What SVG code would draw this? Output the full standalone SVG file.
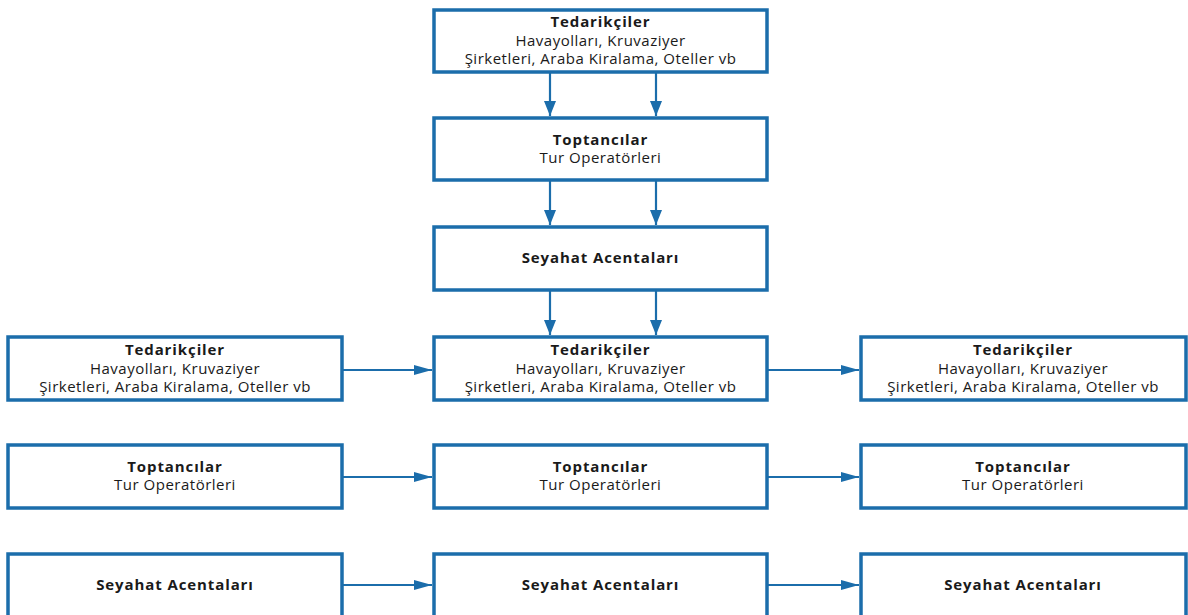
<svg xmlns="http://www.w3.org/2000/svg" width="1188" height="615" viewBox="0 0 1188 615">
<style>
.box{fill:#fff;stroke:#1b6dab;stroke-width:3.5}
.t{font-family:"Open Sans","Liberation Sans",sans-serif;font-size:15px;letter-spacing:0.5px;fill:#1a1a1a;text-anchor:middle}
.b{font-weight:bold;letter-spacing:0.9px}
.c{stroke:#1b6dab;stroke-width:2.2;fill:none}
</style>
<defs>
<marker id="ah" markerUnits="userSpaceOnUse" markerWidth="20" markerHeight="12" refX="18" refY="6" orient="auto">
<path d="M0,1 L18,6 L0,11 Z" fill="#1b6dab"/>
</marker>
<marker id="av" markerUnits="userSpaceOnUse" markerWidth="16" markerHeight="12" refX="15" refY="6" orient="auto">
<path d="M0,0 L15,6 L0,12 Z" fill="#1b6dab"/>
</marker>
</defs>
<rect width="1188" height="615" fill="#fff"/>
<g id="connectors">
<line class="c" x1="550" y1="73" x2="550" y2="116" marker-end="url(#av)"/>
<line class="c" x1="656" y1="73" x2="656" y2="116" marker-end="url(#av)"/>
<line class="c" x1="550" y1="181" x2="550" y2="225" marker-end="url(#av)"/>
<line class="c" x1="656" y1="181" x2="656" y2="225" marker-end="url(#av)"/>
<line class="c" x1="550" y1="291" x2="550" y2="335" marker-end="url(#av)"/>
<line class="c" x1="656" y1="291" x2="656" y2="335" marker-end="url(#av)"/>
<line class="c" x1="343" y1="370" x2="432" y2="370" marker-end="url(#ah)"/>
<line class="c" x1="768" y1="370" x2="859" y2="370" marker-end="url(#ah)"/>
<line class="c" x1="343" y1="477" x2="432" y2="477" marker-end="url(#ah)"/>
<line class="c" x1="768" y1="477" x2="859" y2="477" marker-end="url(#ah)"/>
<line class="c" x1="343" y1="585" x2="432" y2="585" marker-end="url(#ah)"/>
<line class="c" x1="768" y1="585" x2="859" y2="585" marker-end="url(#ah)"/>
</g>
<g id="n1"><rect class="box" x="434" y="10" width="333" height="62"/>
<text class="t b" x="600.5" y="27">Tedarikçiler</text><text class="t" x="600.5" y="46">Havayolları, Kruvaziyer</text><text class="t" x="600.5" y="64">Şirketleri, Araba Kiralama, Oteller vb</text></g>
<g id="n2"><rect class="box" x="434" y="118" width="333" height="62"/>
<text class="t b" x="600.5" y="145">Toptancılar</text><text class="t" x="600.5" y="163">Tur Operatörleri</text></g>
<g id="n3"><rect class="box" x="434" y="227" width="333" height="63"/>
<text class="t b" x="600.5" y="263">Seyahat Acentaları</text></g>
<g id="n4l"><rect class="box" x="8" y="337" width="334" height="63"/>
<text class="t b" x="175" y="355">Tedarikçiler</text><text class="t" x="175" y="374">Havayolları, Kruvaziyer</text><text class="t" x="175" y="392">Şirketleri, Araba Kiralama, Oteller vb</text></g>
<g id="n4c"><rect class="box" x="434" y="337" width="333" height="63"/>
<text class="t b" x="600.5" y="355">Tedarikçiler</text><text class="t" x="600.5" y="374">Havayolları, Kruvaziyer</text><text class="t" x="600.5" y="392">Şirketleri, Araba Kiralama, Oteller vb</text></g>
<g id="n4r"><rect class="box" x="861" y="337" width="325" height="63"/>
<text class="t b" x="1023" y="355">Tedarikçiler</text><text class="t" x="1023" y="374">Havayolları, Kruvaziyer</text><text class="t" x="1023" y="392">Şirketleri, Araba Kiralama, Oteller vb</text></g>
<g id="n5l"><rect class="box" x="8" y="445" width="334" height="63"/>
<text class="t b" x="175" y="472">Toptancılar</text><text class="t" x="175" y="490">Tur Operatörleri</text></g>
<g id="n5c"><rect class="box" x="434" y="445" width="333" height="63"/>
<text class="t b" x="600.5" y="472">Toptancılar</text><text class="t" x="600.5" y="490">Tur Operatörleri</text></g>
<g id="n5r"><rect class="box" x="861" y="445" width="325" height="63"/>
<text class="t b" x="1023" y="472">Toptancılar</text><text class="t" x="1023" y="490">Tur Operatörleri</text></g>
<g id="n6l"><rect class="box" x="8" y="554" width="334" height="66"/>
<text class="t b" x="175" y="590">Seyahat Acentaları</text></g>
<g id="n6c"><rect class="box" x="434" y="554" width="333" height="66"/>
<text class="t b" x="600.5" y="590">Seyahat Acentaları</text></g>
<g id="n6r"><rect class="box" x="861" y="554" width="325" height="66"/>
<text class="t b" x="1023" y="590">Seyahat Acentaları</text></g>
</svg>
